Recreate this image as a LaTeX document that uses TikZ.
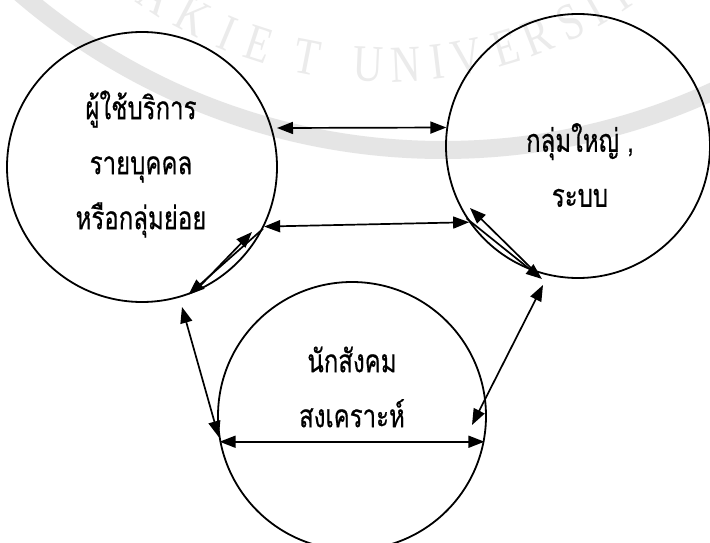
\documentclass[tikz,border=0pt]{standalone}
\usepackage{fontspec}
\setmainfont{Liberation Serif}
\newfontfamily\thaifont[Script=Thai,FakeStretch=0.75,FakeBold=0.5]{Loma}
\newfontfamily\wmfont[FakeStretch=0.8]{Liberation Serif}
\usetikzlibrary{arrows.meta,calc}

\begin{document}
\begin{tikzpicture}[x=1pt,y=-1pt]
\tikzset{
  ring/.style={circle,draw,line width=1.8pt,inner sep=0pt},
  thaitext/.style={align=center,font=\thaifont\fontsize{32}{55}\selectfont},
  wmletter/.style={font=\wmfont\fontsize{52}{52}\selectfont,text=black!8,inner sep=0pt},
  both/.style={{Triangle[length=16pt,width=12pt]}-{Triangle[length=16pt,width=12pt]},line width=1.7pt},
  single/.style={-{Triangle[length=16pt,width=12pt]},line width=1.7pt}
}
\useasboundingbox (0,0) rectangle (710,543);
\clip (0,0) rectangle (710,543);
\fill[white] (0,0) rectangle (710,543);
\draw[black!10,line width=18pt] (443,-498) circle[radius=648pt];
\coordinate (wm_c) at (387,-351);
\foreach \ch/\ang in {A/-123.7,K/-117.9,I/-112.6,E/-108.0,T/-101.0,U/-92.6,N/-87.4,I/-83.1,V/-78.9,E/-73.4,R/-68.8,S/-63.9,I/-60.0,T/-56.2,Y/-52.1}
  \node[wmletter,rotate=\ang+90] at ($(wm_c)+(\ang:416pt)$) {\ch};
\node[ring,minimum size=270pt] (n_client) at (142,167) {};
\node[ring,minimum size=264pt] (n_group) at (578,146) {};
\node[ring,minimum size=268pt] (n_worker) at (352,416) {};
\node[thaitext] (t_client) at (141,164) {ผู้ใช้บริการ\\รายบุคคล\\หรือกลุ่มย่อย};
\node[thaitext] (t_group) at (580,165) {กลุ่มใหญ่ ,\\ระบบ};
\node[thaitext] (t_worker) at (352,387) {นักสังคม\\สงเคราะห์};
\coordinate (p_top) at (277,128);
\coordinate (p_clA) at (200,286);
\coordinate (p_clB) at (252,232);
\coordinate (p_clLow) at (182,307);
\coordinate (p_wkIn) at (472,425);
\coordinate (p_grLow) at (543,285);
\coordinate (p_grIn) at (470,208);
\coordinate (p_grOut) at (542,279);
\draw[both] (p_top) -- (n_group.172);
\draw[both] (n_client.-26) -- (n_group.215);
\draw[single] (p_clA) -- (p_clB);
\draw[single] (n_client.-27) -- (n_client.-70);
\draw[both] (p_clLow) -- (n_worker.189.5);
\draw[both] (n_worker.191) -- (n_worker.-11);
\draw[both] (p_wkIn) -- (p_grLow);
\draw[single] (n_group.251.5) -- (p_grIn);
\draw[single] (n_group.213) -- (p_grOut);
\end{tikzpicture}
\end{document}
